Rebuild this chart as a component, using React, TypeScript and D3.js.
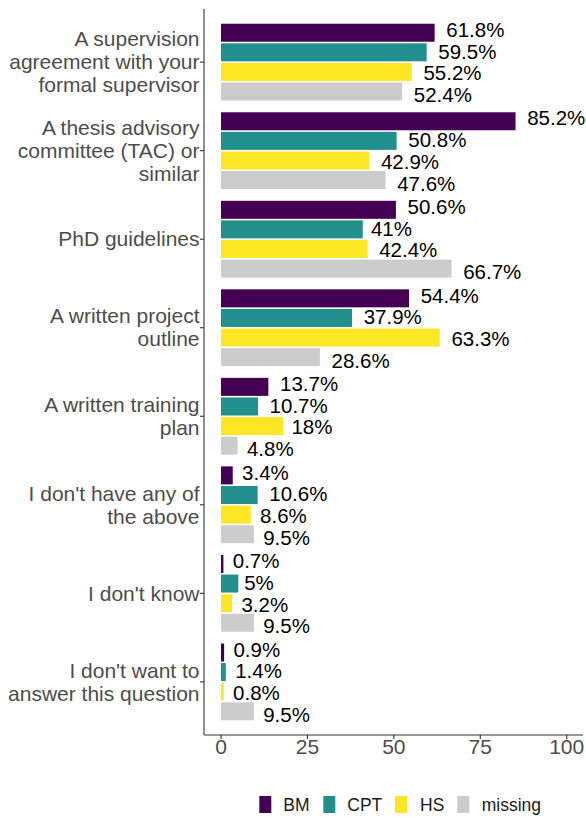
import React from "react";
import * as d3 from "d3";

const categories: string[][] = [
  ["A supervision", "agreement with your", "formal supervisor"],
  ["A thesis advisory", "committee (TAC) or", "similar"],
  ["PhD guidelines"],
  ["A written project", "outline"],
  ["A written training", "plan"],
  ["I don't have any of", "the above"],
  ["I don't know"],
  ["I don't want to", "answer this question"],
];
const seriesNames = ["BM", "CPT", "HS", "missing"];
const bmValues = [61.8, 85.2, 50.6, 54.4, 13.7, 3.4, 0.7, 0.9];
const cptValues = [59.5, 50.8, 41, 37.9, 10.7, 10.6, 5, 1.4];
const hsValues = [55.2, 42.9, 42.4, 63.3, 18, 8.6, 3.2, 0.8];
const missingValues = [52.4, 47.6, 66.7, 28.6, 4.8, 9.5, 9.5, 9.5];
const xTicks = [0, 25, 50, 75, 100];
const colors = ["#440154", "#21908C", "#FDE725", "#CCCCCC"];

const series = [bmValues, cptValues, hsValues, missingValues];

const FONT = "'Liberation Sans', Arial, Helvetica, sans-serif";

const charW: Record<string, number> = {
  "0": 0.556, "1": 0.556, "2": 0.556, "3": 0.556, "4": 0.556,
  "5": 0.556, "6": 0.556, "7": 0.556, "8": 0.556, "9": 0.556,
  ".": 0.278, "%": 0.889,
};
function textWidth(s: string, fs: number) {
  let w = 0;
  for (const c of s) w += (charW[c] ?? 0.556) * fs;
  return w;
}

export default function App() {
  const W = 586;
  const H = 818;
  const panelLeft = 204;
  const panelRight = 583;
  const panelTop = 9;
  const panelBottom = 735;

  const x = d3.scaleLinear().domain([0, 100]).range([221, 566.7]);
  const y = d3
    .scalePoint<number>()
    .domain(d3.range(categories.length))
    .range([panelTop, panelBottom])
    .padding(0.6);

  const barSlot = 19.6;
  const barH = 18;
  const textSlot = 21.7;
  const axisFs = 21;
  const labelFs = 20.5;
  const lineH = 23;

  return (
    <svg
      width={W}
      height={H}
      style={{ position: "absolute", left: 0, top: 0, background: "#fff" }}
      fontFamily={FONT}
    >
      {series.map((vals, j) =>
        vals.map((v, i) => {
          const cy = (y(i) as number) + (j - 1.5) * barSlot;
          return (
            <rect
              key={`b${j}-${i}`}
              x={x(0)}
              y={cy - barH / 2}
              width={Math.max(0, x(v) - x(0))}
              height={barH}
              fill={colors[j]}
            />
          );
        })
      )}
      {series.map((vals, j) =>
        vals.map((v, i) => {
          const lab = `${v}%`;
          const ty = (y(i) as number) + (j - 1.5) * textSlot;
          const tw = textWidth(lab, labelFs);
          return (
            <text
              key={`t${j}-${i}`}
              x={x(v) + 0.2 * tw}
              y={ty + 0.36 * labelFs}
              fontSize={labelFs}
              fill="#000"
            >
              {lab}
            </text>
          );
        })
      )}
      <line x1={panelLeft} x2={panelLeft} y1={panelTop} y2={panelBottom} stroke="#333" strokeWidth={1.1} />
      <line x1={panelLeft} x2={panelRight} y1={panelBottom} y2={panelBottom} stroke="#333" strokeWidth={1.1} />
      {categories.map((lines, i) => {
        const cy = y(i) as number;
        const n = lines.length;
        return (
          <g key={`y${i}`}>
            <line x1={panelLeft - 4} x2={panelLeft} y1={cy} y2={cy} stroke="#333" strokeWidth={1.1} />
            {lines.map((ln, k) => (
              <text
                key={k}
                x={panelLeft - 4.5}
                y={cy + 7.2 + (k - (n - 1) / 2) * lineH}
                textAnchor="end"
                fontSize={axisFs}
                fill="#4D4D4D"
              >
                {ln}
              </text>
            ))}
          </g>
        );
      })}
      {xTicks.map((t) => (
        <g key={`x${t}`}>
          <line x1={x(t)} x2={x(t)} y1={panelBottom} y2={panelBottom + 4} stroke="#333" strokeWidth={1.1} />
          <text
            x={x(t)}
            y={panelBottom + 19}
            textAnchor="middle"
            fontSize={axisFs}
            fill="#4D4D4D"
          >
            {t}
          </text>
        </g>
      ))}
      {seriesNames.map((name, j) => {
        const keyX = [259.3, 323.3, 395, 457.3][j];
        const labX = [283.3, 347.3, 420, 481.7][j];
        return (
          <g key={`l${j}`}>
            <rect x={keyX} y={796} width={12} height={17} fill={colors[j]} />
            <text x={labX} y={811} fontSize={17.5} fill="#1A1A1A">
              {name}
            </text>
          </g>
        );
      })}
    </svg>
  );
}
